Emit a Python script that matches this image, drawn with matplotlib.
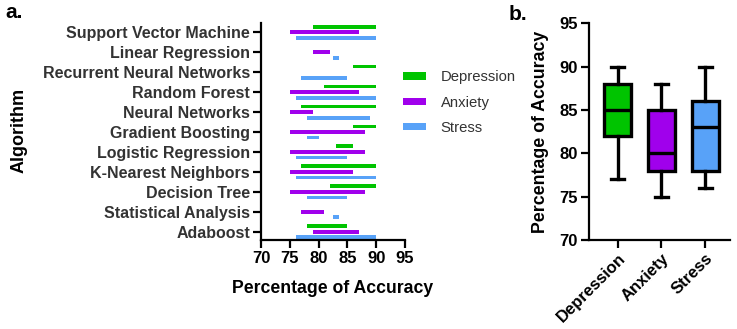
import matplotlib
matplotlib.use("Agg")
import matplotlib.pyplot as plt
from matplotlib.patches import Patch
import numpy as np

plt.rcParams['font.family'] = ['Liberation Sans', 'DejaVu Sans']

# ---- Panel a data (floating bars: start, end) ----
algorithms = ["Support Vector Machine", "Linear Regression", "Recurrent Neural Networks",
              "Random Forest", "Neural Networks", "Gradient Boosting", "Logistic Regression",
              "K-Nearest Neighbors", "Decision Tree", "Statistical Analysis", "Adaboost"]
dep_start = [79, None, 86, 81, 77, 86, 83, 77, 82, None, 78]
dep_end   = [90, None, 90, 90, 90, 90, 86, 90, 90, None, 85]
anx_start = [75, 79, None, 75, 75, 75, 75, 75, 75, 77, 79]
anx_end   = [87, 82, None, 87, 79, 88, 88, 86, 88, 81, 87]
str_start = [76, 82.5, 77, 76, 78, 78, 76, 76, 78, 82.5, 76]
str_end   = [90, 83.5, 85, 90, 89, 80, 85, 90, 85, 83.5, 90]

series_names = ["Depression", "Anxiety", "Stress"]
colors = ["#00C400", "#A000EC", "#58A2F8"]

# ---- Panel b data (box plot summary) ----
box_labels = ["Depression", "Anxiety", "Stress"]
box_whislo = [77, 75, 76]
box_q1     = [82, 78, 78]
box_med    = [85, 80, 83]
box_q3     = [88, 85, 86]
box_whishi = [90, 88, 90]

fig = plt.figure(figsize=(7.37, 3.29), dpi=100)
W, H = 737, 329

def ax_rect(x0, x1, ytop, ybot):
    return [x0 / W, 1 - ybot / H, (x1 - x0) / W, (ybot - ytop) / H]

# ---------------- Panel a ----------------
ax1 = fig.add_axes(ax_rect(261, 405, 22.7, 239.7))
n = len(algorithms)
ypos = np.arange(n)[::-1]
offsets = [0.28, 0.0, -0.28]
bar_h = 0.19
for s, (starts, ends) in enumerate([(dep_start, dep_end), (anx_start, anx_end), (str_start, str_end)]):
    for i in range(n):
        if starts[i] is None:
            continue
        ax1.barh(ypos[i] + offsets[s], ends[i] - starts[i], left=starts[i],
                 height=bar_h, color=colors[s], edgecolor='none')

ax1.set_xlim(70, 95)
ax1.set_ylim(-0.4, 10.48)
ax1.set_xticks([70, 75, 80, 85, 90, 95])
ax1.set_yticks(ypos)
ax1.set_yticklabels(algorithms, fontsize=11.5, fontweight='bold', color='#333333')
for lab in ax1.get_xticklabels():
    lab.set_fontsize(12)
    lab.set_fontweight('bold')
ax1.spines['top'].set_visible(False)
ax1.spines['right'].set_visible(False)
for sp in ['left', 'bottom']:
    ax1.spines[sp].set_linewidth(1.6)
ax1.tick_params(axis='both', direction='out', length=6, width=1.6, pad=2)
ax1.set_xlabel("Percentage of Accuracy", fontsize=12.7, fontweight='bold', labelpad=10)
ax1.set_ylabel("Algorithm", fontsize=13, fontweight='bold')
ax1.yaxis.set_label_coords((28 - 261) / 144, 0.505)

handles = [Patch(facecolor=c, edgecolor='none') for c in colors]
leg = fig.legend(handles, series_names, loc='upper left',
                 bbox_to_anchor=(390 / W, 1 - 57 / H), frameon=False,
                 fontsize=10.7, handlelength=1.55, handleheight=0.36,
                 handletextpad=0.95, labelspacing=0.75)
for t in leg.get_texts():
    t.set_color('#333333')

fig.text(5 / W, 1 - 12 / H, "a.", fontsize=15, fontweight='bold', va='center', ha='left')

# ---------------- Panel b ----------------
ax2 = fig.add_axes(ax_rect(589, 730, 23.3, 240))
stats = []
for i in range(len(box_labels)):
    stats.append(dict(label=box_labels[i], whislo=box_whislo[i], q1=box_q1[i],
                      med=box_med[i], q3=box_q3[i], whishi=box_whishi[i], fliers=[]))
lw = 2.4
bp = ax2.bxp(stats, positions=[1, 2, 3], widths=0.62, patch_artist=True,
             showfliers=False, capwidths=0.3,
             boxprops=dict(linewidth=lw, edgecolor='black'),
             medianprops=dict(linewidth=lw, color='black'),
             whiskerprops=dict(linewidth=lw, color='black'),
             capprops=dict(linewidth=lw, color='black'))
for patch, c in zip(bp['boxes'], colors):
    patch.set_facecolor(c)

ax2.set_xlim(0.343, 3.57)
ax2.set_ylim(70, 95)
ax2.set_yticks([70, 75, 80, 85, 90, 95])
for lab in ax2.get_yticklabels():
    lab.set_fontsize(12)
    lab.set_fontweight('bold')
ax2.set_xticks([1, 2, 3])
ax2.set_xticklabels(box_labels, rotation=45, ha='right', rotation_mode='anchor',
                    fontsize=12, fontweight='bold')
ax2.spines['top'].set_visible(False)
ax2.spines['right'].set_visible(False)
for sp in ['left', 'bottom']:
    ax2.spines[sp].set_linewidth(1.6)
ax2.tick_params(axis='both', direction='out', length=6, width=1.6, pad=2)
ax2.set_ylabel("Percentage of Accuracy", fontsize=12.8, fontweight='bold')
ax2.yaxis.set_label_coords((549 - 589) / 141, 0.5)

fig.text(509 / W, 1 - 14 / H, "b.", fontsize=15, fontweight='bold', va='center', ha='left')

fig.savefig("out.png", dpi=100)
